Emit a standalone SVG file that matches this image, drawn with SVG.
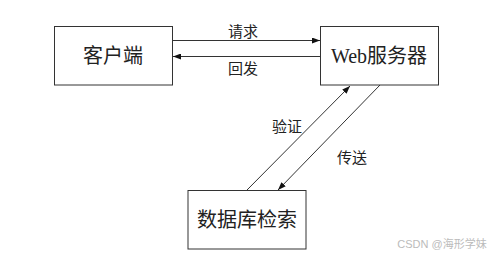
<svg xmlns="http://www.w3.org/2000/svg" width="500" height="257" viewBox="0 0 500 257">
<style>
.box{fill:#fff;stroke:#333;stroke-width:1}
.t{font-family:"Liberation Serif","Noto Sans CJK SC",serif;fill:#222;text-anchor:middle}
.big{font-size:20px}
.lab{font-size:15px}
.ln{stroke:#333;stroke-width:1;fill:none;marker-end:url(#ah)}
</style>
<defs>
<marker id="ah" viewBox="0 0 8 6" refX="8" refY="3" markerWidth="8" markerHeight="6" markerUnits="userSpaceOnUse" orient="auto">
<path d="M0,0 L8,3 L0,6 z" fill="#111"/>
</marker>
</defs>
<rect width="500" height="257" fill="#fff"/>
<g id="client"><rect class="box" x="54.5" y="26.5" width="118" height="58.5"/><text class="t big" x="113" y="62.5">客户端</text></g>
<g id="web"><rect class="box" x="320.5" y="26.5" width="118" height="58.5"/><text class="t big" x="379" y="62.5">Web服务器</text></g>
<g id="db"><rect class="box" x="188" y="190.5" width="118" height="58.5"/><text class="t big" x="247" y="227">数据库检索</text></g>
<g id="connectors">
<line class="ln" x1="173" y1="40.5" x2="320" y2="40.5"/>
<line class="ln" x1="320" y1="56.5" x2="173" y2="56.5"/>
<line class="ln" x1="247" y1="190" x2="350" y2="86"/>
<line class="ln" x1="380" y1="85" x2="278" y2="190"/>
<text class="t lab" x="243" y="37">请求</text>
<text class="t lab" x="243" y="74">回发</text>
<text class="t lab" x="287" y="132">验证</text>
<text class="t lab" x="352" y="163">传送</text>
</g>
<text x="442" y="248" style="font-family:'Liberation Sans','Noto Sans CJK SC',sans-serif;font-size:11px;fill:#bbb;text-anchor:middle">CSDN @海形学妹</text>
</svg>
